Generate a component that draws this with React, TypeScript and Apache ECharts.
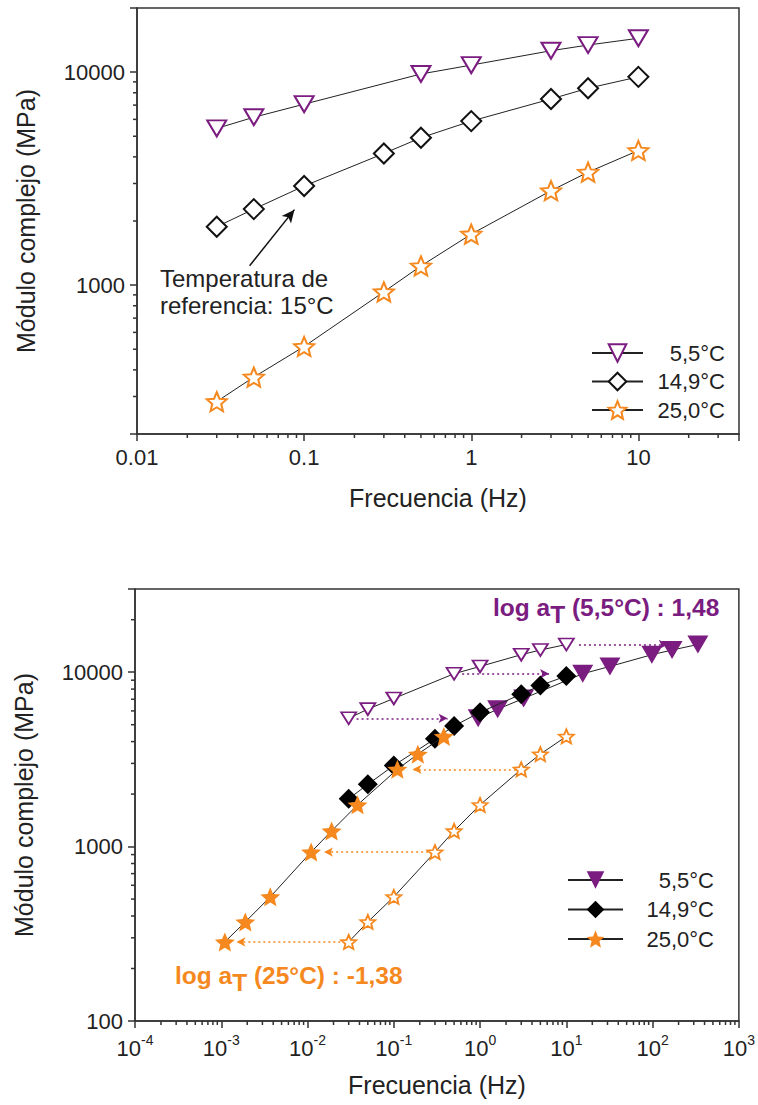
import React, { useEffect, useRef } from 'react';
import * as echarts from 'echarts';

// ---------- data ----------
const seriesLabels = ['5,5°C', '14,9°C', '25,0°C'];
const shiftedPrefix = 'Desplazado ';

const freq55 = [0.03, 0.05, 0.1, 0.5, 1, 3, 5, 10];
const mod55 = [5440, 6140, 7070, 9800, 10790, 12600, 13400, 14420];

const freq149 = [0.03, 0.05, 0.1, 0.3, 0.5, 1, 3, 5, 10];
const mod149 = [1880, 2275, 2920, 4150, 4920, 5890, 7480, 8400, 9500];

const freq250 = [0.03, 0.05, 0.1, 0.3, 0.5, 1, 3, 5, 10];
const mod250 = [284, 370, 515, 930, 1230, 1735, 2775, 3390, 4285];

// shifted (master curve) frequencies
const freq55Shifted = [0.95, 1.6, 3.2, 15.5, 32, 98, 168, 335];
const freq149Shifted = [0.03, 0.05, 0.1, 0.3, 0.5, 1, 3, 5, 10];
const freq250Shifted = [0.0011, 0.0019, 0.0037, 0.011, 0.019, 0.038, 0.11, 0.19, 0.38];

// dotted shift arrows: from frequency -> to frequency at a modulus level
const purpleArrowFrom = [0.037, 0.62, 14];
const purpleArrowTo = [0.42, 6.3, 150];
const purpleArrowLevel = [5440, 9800, 14420];
const orangeArrowFrom = [2.6, 0.25, 0.024];
const orangeArrowTo = [0.165, 0.0155, 0.0015];
const orangeArrowLevel = [2775, 930, 284];

// reference-temperature arrow in top chart
const refArrowFrom = [0.0472, 1233];
const refArrowTo = [0.0875, 2261];

// tick labels
const topXExp = [-2, -1, 0, 1];
const topXTickLabels = ['0.01', '0.1', '1', '10'];
const topYExp = [3, 4];
const topYTickLabels = ['1000', '10000'];
const botXExp = [-4, -3, -2, -1, 0, 1, 2, 3];
const botYExp = [2, 3, 4];
const botYTickLabels = ['100', '1000', '10000'];

// ---------- styles ----------
const PURPLE = '#7B1C80';
const ORANGE = '#F5891F';
const INK = '#222222';
const AXIS = '#333333';
const FONT = '"Liberation Sans", Arial, Helvetica, sans-serif';
const TRI_DOWN = 'path://M0,0L20,0L10,17Z';
const STAR =
  'path://M0,-10L2.645,-3.64L9.51,-3.09L4.28,1.39L5.88,8.09L0,4.5L-5.88,8.09L-4.28,1.39L-9.51,-3.09L-2.645,-3.64Z';

function pairs(xs: number[], ys: number[]) {
  return xs.map((x, i) => [x, ys[i]]);
}

function decadeExp(v: number): number | null {
  const l = Math.log10(v);
  const r = Math.round(l);
  return Math.abs(l - r) < 1e-6 ? r : null;
}

function minorValues(lo: number, hi: number): number[] {
  const out: number[] = [];
  for (let e = Math.floor(Math.log10(lo)); e <= Math.ceil(Math.log10(hi)); e++) {
    for (let m = 2; m <= 9; m++) {
      const v = m * Math.pow(10, e);
      if (v > lo * 1.0001 && v < hi * 0.9999) out.push(v);
    }
  }
  return out;
}

function minorTickSeries(axis: 'x' | 'y', idx: number, vals: number[], anchor: number, len: number) {
  return {
    type: 'custom',
    xAxisIndex: idx,
    yAxisIndex: idx,
    silent: true,
    clip: false,
    z: 1,
    data: vals.map((v) => (axis === 'x' ? [v, anchor] : [anchor, v])),
    renderItem: (_p: any, api: any) => {
      const p = api.coord([api.value(0), api.value(1)]);
      const shape =
        axis === 'x'
          ? { x1: p[0], y1: p[1], x2: p[0], y2: p[1] + len }
          : { x1: p[0], y1: p[1], x2: p[0] - len, y2: p[1] };
      return { type: 'line', shape, style: { stroke: AXIS, lineWidth: 1.5 } };
    },
  };
}

function labelFrom(exps: number[], labels: string[]) {
  return (v: number) => {
    const e = decadeExp(v);
    if (e === null) return '';
    const i = exps.indexOf(e);
    return i >= 0 ? labels[i] : '';
  };
}

function logAxis(idx: number, min: number, max: number, name: string, nameGap: number, formatter: any, rich?: any) {
  return {
    type: 'log',
    logBase: 10,
    gridIndex: idx,
    min,
    max,
    name,
    nameLocation: 'middle',
    nameGap,
    nameTextStyle: { fontSize: 25, color: INK, fontFamily: FONT },
    axisLine: { show: true, onZero: false, lineStyle: { color: AXIS, width: 1.5 } },
    axisTick: { show: true, inside: false, length: 7, lineStyle: { color: AXIS, width: 1.5 } },
    minorTick: { show: false },
    splitLine: { show: false },
    axisLabel: {
      formatter,
      fontSize: 22,
      color: INK,
      fontFamily: FONT,
      margin: 12,
      showMinLabel: true,
      showMaxLabel: true,
      hideOverlap: false,
      rich,
    },
  };
}

const lineStyle = { color: INK, width: 1 };

const boldRich = (color: string) => ({
  b: { fontSize: 24.5, fontWeight: 'bold', fontFamily: FONT, fill: color, verticalAlign: 'top', lineHeight: 25 },
  s: { fontSize: 24.5, fontWeight: 'bold', fontFamily: FONT, fill: color, verticalAlign: 'top', lineHeight: 25, padding: [7, 0, 0, 0] },
});

const option: any = {
  animation: false,
  backgroundColor: '#ffffff',
  textStyle: { fontFamily: FONT },
  grid: [
    { left: 137, top: 8, width: 602, height: 426, show: true, borderColor: AXIS, borderWidth: 1.5, backgroundColor: 'transparent' },
    { left: 135, top: 589, width: 608, height: 432, show: true, borderColor: AXIS, borderWidth: 1.5, backgroundColor: 'transparent' },
  ],
  xAxis: [
    logAxis(0, 0.01, 40, 'Frecuencia (Hz)', 51, labelFrom(topXExp, topXTickLabels)),
    logAxis(1, 1e-4, 1e3, 'Frecuencia (Hz)', 51, (v: number) => {
      const e = decadeExp(v);
      if (e === null || botXExp.indexOf(e) < 0) return '';
      return `{b|10}{s|${e}}`;
    }, {
      b: { fontSize: 22, color: INK, fontFamily: FONT, verticalAlign: 'bottom', lineHeight: 26 },
      s: { fontSize: 14, color: INK, fontFamily: FONT, verticalAlign: 'top', lineHeight: 14 },
    }),
  ],
  yAxis: [
    logAxis(0, 200, 20000, 'Módulo complejo (MPa)', 99, labelFrom(topYExp, topYTickLabels)),
    logAxis(1, 100, 30000, 'Módulo complejo (MPa)', 99, labelFrom(botYExp, botYTickLabels)),
  ],
  legend: [
    {
      data: seriesLabels,
      orient: 'vertical',
      left: 586,
      top: 337,
      itemWidth: 51,
      itemHeight: 22,
      itemGap: 6.5,
      selectedMode: false,
      formatter: (n: string) => `{r|${n}}`,
      textStyle: { rich: { r: { width: 77, align: 'right', fontSize: 22, color: INK, fontFamily: FONT, lineHeight: 22 } } },
    },
    {
      data: seriesLabels.map((s) => shiftedPrefix + s),
      orient: 'vertical',
      left: 562,
      top: 864,
      itemWidth: 55,
      itemHeight: 22,
      itemGap: 7.5,
      selectedMode: false,
      formatter: (n: string) => `{r|${n.replace(shiftedPrefix, '')}}`,
      textStyle: { rich: { r: { width: 86, align: 'right', fontSize: 22, color: INK, fontFamily: FONT, lineHeight: 22 } } },
    },
  ],
  graphic: [
    {
      type: 'text',
      left: 160,
      top: 265,
      z: 10,
      style: { text: 'Temperatura de\nreferencia: 15°C', font: `24px ${FONT}`, fill: INK, lineHeight: 27 },
    },
    {
      type: 'text',
      left: 493,
      top: 595,
      z: 10,
      style: { text: '{b|log a}{s|T}{b| (5,5°C) : 1,48}', rich: boldRich(PURPLE) },
    },
    {
      type: 'text',
      left: 175,
      top: 963,
      z: 10,
      style: { text: '{b|log a}{s|T}{b| (25°C) : -1,38}', rich: boldRich(ORANGE) },
    },
  ],
  series: [
    // ---- top chart ----
    {
      name: seriesLabels[0],
      type: 'line',
      xAxisIndex: 0,
      yAxisIndex: 0,
      data: pairs(freq55, mod55),
      symbol: TRI_DOWN,
      symbolSize: [19, 16],
      itemStyle: { color: '#ffffff', borderColor: PURPLE, borderWidth: 2 },
      lineStyle,
      z: 3,
    },
    {
      name: seriesLabels[1],
      type: 'line',
      xAxisIndex: 0,
      yAxisIndex: 0,
      data: pairs(freq149, mod149),
      symbol: 'diamond',
      symbolSize: [20, 20],
      itemStyle: { color: '#ffffff', borderColor: '#111111', borderWidth: 2 },
      lineStyle,
      z: 3,
      markLine: {
        silent: true,
        symbol: ['none', 'arrow'],
        symbolSize: [9, 13],
        label: { show: false },
        lineStyle: { color: '#111111', width: 1.5, type: 'solid' },
        data: [[{ coord: refArrowFrom }, { coord: refArrowTo }]],
      },
    },
    {
      name: seriesLabels[2],
      type: 'line',
      xAxisIndex: 0,
      yAxisIndex: 0,
      data: pairs(freq250, mod250),
      symbol: STAR,
      symbolSize: [20, 19],
      itemStyle: { color: '#ffffff', borderColor: ORANGE, borderWidth: 2 },
      lineStyle,
      z: 3,
    },
    // ---- bottom chart: original (open) data ----
    {
      name: 'o55',
      type: 'line',
      xAxisIndex: 1,
      yAxisIndex: 1,
      data: pairs(freq55, mod55),
      symbol: TRI_DOWN,
      symbolSize: [15, 12],
      itemStyle: { color: '#ffffff', borderColor: PURPLE, borderWidth: 1.8 },
      lineStyle,
      z: 3,
      markLine: {
        silent: true,
        symbol: ['none', 'arrow'],
        symbolSize: [7, 9],
        label: { show: false },
        lineStyle: { color: PURPLE, width: 1.5, type: [2, 3] },
        data: purpleArrowLevel.map((lv, i) => [{ coord: [purpleArrowFrom[i], lv] }, { coord: [purpleArrowTo[i], lv] }]),
      },
    },
    {
      name: 'o250',
      type: 'line',
      xAxisIndex: 1,
      yAxisIndex: 1,
      data: pairs(freq250, mod250),
      symbol: STAR,
      symbolSize: [15, 14],
      itemStyle: { color: '#ffffff', borderColor: ORANGE, borderWidth: 1.8 },
      lineStyle,
      z: 3,
      markLine: {
        silent: true,
        symbol: ['none', 'arrow'],
        symbolSize: [7, 9],
        label: { show: false },
        lineStyle: { color: ORANGE, width: 1.5, type: [2, 3] },
        data: orangeArrowLevel.map((lv, i) => [{ coord: [orangeArrowFrom[i], lv] }, { coord: [orangeArrowTo[i], lv] }]),
      },
    },
    // ---- bottom chart: shifted (filled) data ----
    {
      name: shiftedPrefix + seriesLabels[0],
      type: 'line',
      xAxisIndex: 1,
      yAxisIndex: 1,
      data: pairs(freq55Shifted, mod55),
      symbol: TRI_DOWN,
      symbolSize: [21, 18],
      itemStyle: { color: PURPLE },
      lineStyle,
      z: 4,
    },
    {
      name: shiftedPrefix + seriesLabels[1],
      type: 'line',
      xAxisIndex: 1,
      yAxisIndex: 1,
      data: pairs(freq149Shifted, mod149),
      symbol: 'diamond',
      symbolSize: [20, 20],
      itemStyle: { color: '#000000' },
      lineStyle,
      z: 5,
    },
    {
      name: shiftedPrefix + seriesLabels[2],
      type: 'line',
      xAxisIndex: 1,
      yAxisIndex: 1,
      data: pairs(freq250Shifted, mod250),
      symbol: STAR,
      symbolSize: [20, 19],
      itemStyle: { color: ORANGE },
      lineStyle,
      z: 6,
    },
    // ---- minor ticks ----
    minorTickSeries('x', 0, minorValues(0.01, 40), 200, 4),
    minorTickSeries('y', 0, minorValues(200, 20000), 0.01, 4),
    minorTickSeries('x', 1, minorValues(1e-4, 1e3), 100, 4),
    minorTickSeries('y', 1, minorValues(100, 30000), 1e-4, 4),
  ],
};

export default function App() {
  const ref = useRef<HTMLDivElement>(null);
  useEffect(() => {
    if (!ref.current) return;
    const chart = echarts.init(ref.current, null, { renderer: 'svg' });
    chart.setOption(option);
    return () => chart.dispose();
  }, []);
  return (
    <div
      ref={ref}
      style={{ position: 'absolute', left: 0, top: 0, width: 758, height: 1105, background: '#ffffff' }}
    />
  );
}
